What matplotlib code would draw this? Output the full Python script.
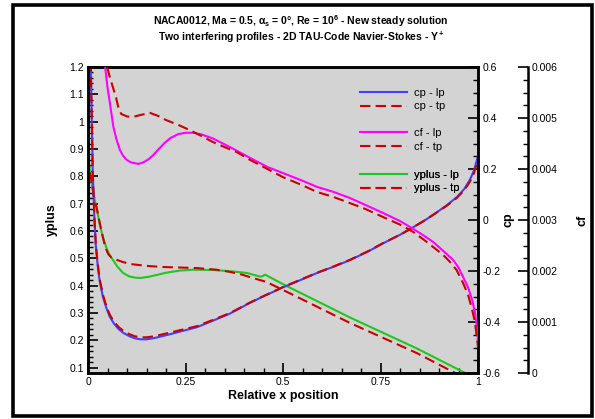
import numpy as np
import matplotlib
matplotlib.use('Agg')
import matplotlib.pyplot as plt
from matplotlib.patches import Rectangle
from matplotlib.ticker import MultipleLocator

plt.rcParams['font.family'] = ['Liberation Sans', 'DejaVu Sans']
plt.rcParams['axes.unicode_minus'] = False
plt.rcParams['mathtext.fontset'] = 'custom'
plt.rcParams['mathtext.rm'] = 'Liberation Sans:bold'
plt.rcParams['mathtext.it'] = 'Liberation Sans:bold'

# cp, lower / upper profile
x_cp = [0, 0.003, 0.006, 0.009, 0.012, 0.016, 0.02, 0.025, 0.03, 0.038, 0.047, 0.056, 0.066,
        0.078, 0.09, 0.105, 0.12, 0.135, 0.15, 0.17, 0.192, 0.22, 0.25, 0.28, 0.32, 0.364,
        0.415, 0.449, 0.5, 0.55, 0.587, 0.63, 0.672, 0.72, 0.756, 0.8, 0.831, 0.865, 0.895,
        0.92, 0.946, 0.965, 0.979, 0.99, 0.997, 1.0]
cp_lp = [1.05, 0.92, 0.7, 0.45, 0.2, 0.02, -0.1, -0.18, -0.24, -0.30, -0.345, -0.38, -0.405,
         -0.427, -0.442, -0.455, -0.464, -0.468, -0.468, -0.463, -0.455, -0.444, -0.432, -0.42,
         -0.395, -0.367, -0.325, -0.30, -0.264, -0.232, -0.208, -0.183, -0.157, -0.122, -0.092,
         -0.058, -0.031, 0.0, 0.031, 0.058, 0.09, 0.122, 0.157, 0.195, 0.235, 0.25]
cp_tp = [1.05, 0.92, 0.7, 0.45, 0.2, 0.025, -0.095, -0.173, -0.232, -0.292, -0.337, -0.372,
         -0.397, -0.419, -0.434, -0.447, -0.456, -0.46, -0.46, -0.456, -0.448, -0.438, -0.427,
         -0.416, -0.392, -0.365, -0.324, -0.299, -0.263, -0.231, -0.207, -0.182, -0.156,
         -0.121, -0.091, -0.058, -0.031, 0.0, 0.03, 0.056, 0.087, 0.117, 0.15, 0.185, 0.222, 0.24]

# cf
x_cf_lp = [0.035, 0.044, 0.05, 0.056, 0.065, 0.073, 0.082, 0.09, 0.099, 0.11, 0.129, 0.142,
           0.155, 0.167, 0.18, 0.195, 0.21, 0.23, 0.249, 0.27, 0.29, 0.32, 0.364, 0.415, 0.46,
           0.5, 0.55, 0.587, 0.63, 0.672, 0.71, 0.756, 0.8, 0.831, 0.86, 0.885, 0.91, 0.936,
           0.95, 0.962, 0.975, 0.985, 0.992, 0.997, 1.0]
cf_lp = [0.0067, 0.006, 0.0056, 0.0053, 0.00483, 0.00458, 0.00437, 0.00426, 0.00418, 0.00413,
         0.0041, 0.00413, 0.00419, 0.00427, 0.00438, 0.0045, 0.0046, 0.00468, 0.00471, 0.00471,
         0.00468, 0.0046, 0.00443, 0.00422, 0.00404, 0.00392, 0.00377, 0.00365, 0.00355,
         0.00343, 0.0033, 0.00314, 0.00298, 0.00284, 0.0027, 0.00257, 0.0024, 0.00222, 0.00207,
         0.00188, 0.00167, 0.00143, 0.0012, 0.0009, 0.0006]
x_cf_tp = [0.04, 0.049, 0.056, 0.064, 0.072, 0.078, 0.085, 0.1, 0.115, 0.135, 0.159, 0.18, 0.2,
           0.23, 0.262, 0.29, 0.32, 0.35, 0.382, 0.415, 0.46, 0.5, 0.55, 0.587, 0.63, 0.672,
           0.71, 0.756, 0.8, 0.831, 0.86, 0.885, 0.91, 0.928, 0.945, 0.962, 0.975, 0.985,
           0.992, 0.997, 1.0]
cf_tp = [0.0066, 0.006, 0.0058, 0.0056, 0.0054, 0.0052, 0.00508, 0.00503, 0.00502, 0.00506,
         0.0051, 0.00504, 0.00496, 0.00487, 0.00476, 0.00465, 0.00453, 0.00443, 0.00433,
         0.00418, 0.004, 0.00384, 0.00368, 0.00355, 0.00345, 0.00333, 0.00322, 0.00306,
         0.00291, 0.00278, 0.00262, 0.00247, 0.00232, 0.00218, 0.00202, 0.00176, 0.00152,
         0.00124, 0.001, 0.0007, 0.0005]

# yplus
x_yp_lp = [0, 0.005, 0.01, 0.016, 0.023, 0.03, 0.038, 0.048, 0.056, 0.064, 0.075, 0.09, 0.105,
           0.12, 0.135, 0.155, 0.177, 0.2, 0.236, 0.27, 0.32, 0.37, 0.408, 0.441, 0.447, 0.454,
           0.5, 0.672, 0.843, 0.959, 1.0]
yp_lp = [0.87, 0.82, 0.77, 0.72, 0.677, 0.625, 0.578, 0.535, 0.51, 0.494, 0.47, 0.446, 0.434,
         0.429, 0.428, 0.432, 0.439, 0.447, 0.455, 0.458, 0.457, 0.452, 0.446, 0.433, 0.434,
         0.44, 0.405, 0.283, 0.17, 0.086, 0.056]
x_yp_tp = [0, 0.005, 0.01, 0.016, 0.023, 0.03, 0.037, 0.044, 0.052, 0.06, 0.074, 0.09, 0.108,
           0.15, 0.192, 0.28, 0.33, 0.364, 0.395, 0.415, 0.458, 0.5, 0.672, 0.843, 0.936, 1.0]
yp_tp = [0.87, 0.82, 0.77, 0.72, 0.68, 0.63, 0.585, 0.541, 0.515, 0.503, 0.494, 0.486, 0.479,
         0.472, 0.468, 0.464, 0.458, 0.45, 0.44, 0.431, 0.413, 0.384, 0.263, 0.153, 0.084, 0.04]

blue = '#4040ff'
red = '#cc0000'
magenta = '#ff00ff'
green = '#1ec81e'
lw = 1.5
dash = (5, 2.5)

fig = plt.figure(figsize=(5.95, 4.19), dpi=100)
fig.patches.append(Rectangle((13 / 595, 3.5 / 419), 578.5 / 595, 410.5 / 419,
                             transform=fig.transFigure, fill=False, lw=2.6,
                             edgecolor='black', zorder=0))

ax = fig.add_axes([88 / 595, 1 - 373 / 419, 390 / 595, 306 / 419])
ax.set_facecolor('#d3d3d3')
ax2 = ax.twinx()
ax3 = ax.twinx()
ax3.spines['right'].set_position(('axes', 1.128))
for s in ['top', 'bottom', 'left']:
    ax3.spines[s].set_visible(False)

h5, = ax.plot(x_yp_lp, yp_lp, color=green, lw=lw, label='yplus - lp')
h6, = ax.plot(x_yp_tp, yp_tp, color=red, lw=lw, dashes=dash, label='yplus - tp')
h1, = ax2.plot(x_cp, cp_lp, color=blue, lw=lw, label='cp - lp')
h2, = ax2.plot(x_cp, cp_tp, color=red, lw=lw, dashes=dash, label='cp - tp')
h3, = ax3.plot(x_cf_lp, cf_lp, color=magenta, lw=lw, label='cf - lp')
h4, = ax3.plot(x_cf_tp, cf_tp, color=red, lw=lw, dashes=dash, label='cf - tp')

ax.set_xlim(0, 1)
ax.set_ylim(0.08, 1.2)
ax2.set_ylim(-0.6, 0.6)
ax3.set_ylim(0, 0.006)

ax.set_xticks([0, 0.25, 0.5, 0.75, 1])
ax.set_xticklabels(['0', '0.25', '0.5', '0.75', '1'])
ax.xaxis.set_minor_locator(MultipleLocator(0.05))
ax.set_yticks(np.arange(0.1, 1.21, 0.1))
ax.set_yticklabels(['0.1', '0.2', '0.3', '0.4', '0.5', '0.6', '0.7', '0.8', '0.9', '1', '1.1', '1.2'])
ax.yaxis.set_minor_locator(MultipleLocator(0.02))
ax2.set_yticks([-0.6, -0.4, -0.2, 0, 0.2, 0.4, 0.6])
ax2.set_yticklabels(['-0.6', '-0.4', '-0.2', '0', '0.2', '0.4', '0.6'])
ax2.yaxis.set_minor_locator(MultipleLocator(0.05))
ax3.set_yticks([0, 0.001, 0.002, 0.003, 0.004, 0.005, 0.006])
ax3.set_yticklabels(['0', '0.001', '0.002', '0.003', '0.004', '0.005', '0.006'])
ax3.yaxis.set_minor_locator(MultipleLocator(0.00025))

for a in (ax, ax2, ax3):
    a.tick_params(which='major', direction='in', length=7, width=1.2, labelsize=7.5, pad=3)
    a.tick_params(which='minor', direction='in', length=3.5, width=1.0)
    for s in a.spines.values():
        s.set_linewidth(1.8)
ax.tick_params(top=False, right=False, which='both')

ax.set_xlabel('Relative x position', fontsize=9, fontweight='bold', labelpad=2)
ax.set_ylabel('yplus', fontsize=9, fontweight='bold', labelpad=8)
ax2.set_ylabel('cp', fontsize=9, fontweight='bold', labelpad=2)
ax3.set_ylabel('cf', fontsize=9, fontweight='bold', labelpad=13)

fig.text(0.505, 1 - 21 / 419, r'NACA0012, Ma = 0.5, $\alpha_s$ = 0°, Re = 10$^6$ - New steady solution',
         ha='center', va='center', fontsize=7.5, fontweight='bold')
fig.text(0.506, 1 - 37 / 419, r'Two interfering profiles - 2D TAU-Code Navier-Stokes - Y$^+$',
         ha='center', va='center', fontsize=7.5, fontweight='bold')

groups = [([h1, h2], 99.5), ([h3, h4], 140), ([h5, h6], 181.5)]
for hs, yc in groups:
    leg = ax3.legend(handles=hs, loc='center left', bbox_to_anchor=(360 / 595, 1 - yc / 419),
                     bbox_transform=fig.transFigure, frameon=False, fontsize=8,
                     handlelength=4.2, handletextpad=0.7, labelspacing=0.35,
                     borderpad=0, borderaxespad=0)
    ax3.add_artist(leg)

fig.savefig('out.png', dpi=100)
